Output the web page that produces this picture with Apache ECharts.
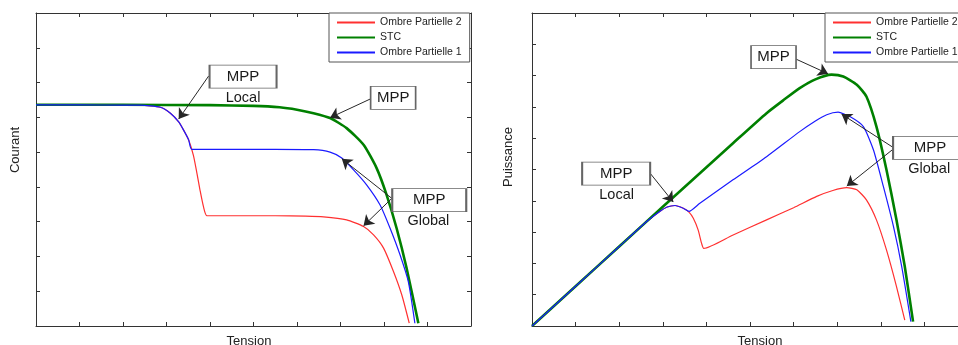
<!DOCTYPE html>
<html>
<head>
<meta charset="utf-8">
<script src="https://cdn.jsdelivr.net/npm/echarts@6/dist/echarts.min.js"></script>
<style>
  html, body { margin: 0; padding: 0; background: #fff; overflow: hidden; }
  /* the right panel runs past the window edge, as in the original figure */
  #chart { width: 980px; height: 345px; }
</style>
</head>
<body>
<div id="chart"></div>
<script>
// Courant / Tension (left panel), [tension, courant]
const ivOmbre2 = [[0, 6.36], [1, 6.36], [2, 6.35], [2.4, 6.35], [2.86, 6.29], [3.09, 6.12], [3.28, 5.87], [3.39, 5.64],
  [3.51, 5.35], [3.62, 4.9], [3.7, 4.39], [3.77, 3.91], [3.85, 3.43], [3.93, 3.17], [4.5, 3.17], [5.5, 3.17],
  [6.2, 3.16], [6.61, 3.14], [7.14, 3.05], [7.53, 2.86], [7.76, 2.62], [7.99, 2.24], [8.22, 1.56], [8.41, 0.89], [8.58, 0.08]];
const ivStc = [[0, 6.36], [2, 6.36], [4, 6.35], [5, 6.33], [5.6, 6.29], [6.0, 6.22], [6.38, 6.12], [6.76, 5.98],
  [7.14, 5.69], [7.53, 5.21], [7.83, 4.54], [8.06, 3.77], [8.29, 2.81], [8.52, 1.66], [8.79, 0.08]];
const ivOmbre1 = [[0, 6.36], [1, 6.36], [2, 6.35], [2.4, 6.35], [2.86, 6.29], [3.09, 6.12], [3.28, 5.87], [3.39, 5.64],
  [3.51, 5.35], [3.58, 5.08], [4.5, 5.08], [5.5, 5.08], [6.38, 5.07], [6.76, 5.0], [7.03, 4.83], [7.3, 4.49],
  [7.6, 4.06], [7.91, 3.48], [8.14, 2.81], [8.37, 2.04], [8.56, 1.27], [8.71, 0.08]];

// Puissance / Tension (right panel), [tension, puissance]
const pvOmbre2 = [[0, 0], [1, 1.27], [2, 2.54], [2.63, 3.34], [2.93, 3.66], [3.1, 3.8], [3.28, 3.85], [3.47, 3.76],
  [3.6, 3.64], [3.7, 3.44], [3.81, 3.07], [3.89, 2.64], [3.94, 2.48], [4.6, 2.9], [5.38, 3.39], [6.0, 3.78],
  [6.53, 4.14], [6.9, 4.33], [7.22, 4.42], [7.45, 4.35], [7.67, 4.03], [7.9, 3.39], [8.13, 2.43], [8.36, 1.26], [8.55, 0.19]];
const pvStc = [[0, 0], [1, 1.27], [2, 2.54], [3, 3.81], [3.85, 4.88], [4.61, 5.84], [5.38, 6.8], [5.8, 7.25],
  [6.14, 7.6], [6.5, 7.88], [6.87, 8.03], [7.14, 7.97], [7.45, 7.71], [7.67, 7.33], [7.9, 6.37], [8.13, 4.99],
  [8.36, 3.39], [8.55, 1.9], [8.74, 0.14]];
const pvOmbre1 = [[0, 0], [1, 1.27], [2, 2.54], [2.63, 3.34], [2.93, 3.66], [3.1, 3.8], [3.28, 3.85], [3.47, 3.76],
  [3.6, 3.66], [3.85, 3.92], [4.61, 4.67], [5.38, 5.41], [6.14, 6.21], [6.5, 6.55], [6.76, 6.75], [7.02, 6.83],
  [7.29, 6.69], [7.6, 6.37], [7.83, 5.63], [8.06, 4.45], [8.29, 3.18], [8.48, 1.9], [8.69, 0.14]];

const seriesNames = ['Ombre Partielle 2', 'STC', 'Ombre Partielle 1'];

// annotation boxes / arrows, in data units of each panel
const ivBoxes = [
  { at: [4.76, 7.17], size: [67, 23], sub: 'Local', subAt: [4.76, 6.57] },
  { at: [8.21, 6.56], size: [45, 23] },
  { at: [9.04, 3.62], size: [74, 23], sub: 'Global', subAt: [9.02, 3.02] }
];
const ivArrows = [
  [[3.97, 7.19], [3.28, 5.95]],
  [[7.69, 6.53], [6.76, 5.99]],
  [[8.18, 3.67], [7.03, 4.81]],
  [[8.18, 3.67], [7.53, 2.88]]
];
const pvBoxes = [
  { at: [5.54, 8.59], size: [45, 23] },
  { at: [1.93, 4.87], size: [68, 23], sub: 'Local', subAt: [1.94, 4.19] },
  { at: [9.13, 5.69], size: [74, 23], sub: 'Global', subAt: [9.11, 5.01] }
];
const pvArrows = [
  [[6.05, 8.53], [6.79, 8.06]],
  [[2.71, 4.88], [3.24, 3.96]],
  [[8.31, 5.68], [7.1, 6.77]],
  [[8.31, 5.68], [7.22, 4.47]]
];

const FONT = '"Liberation Sans", Arial, sans-serif';
const colors = ['#ff3030', '#008000', '#1a1aff'];
const widths = [1.2, 2.6, 1.2];
const axisColor = '#333';

const chart = echarts.init(document.getElementById('chart'));

const makeAxis = (gridIndex, max, position) => ({
  type: 'value',
  gridIndex,
  position,
  min: 0,
  max,
  interval: 1,
  axisLine: { show: true, onZero: false, lineStyle: { color: axisColor, width: 1 } },
  axisTick: { show: true, inside: true, length: 4, lineStyle: { color: axisColor } },
  axisLabel: { show: false },
  splitLine: { show: false }
});

const markersFor = (boxes, arrows) => {
  const points = [];
  boxes.forEach(b => {
    points.push({
      coord: b.at,
      symbol: 'rect',
      symbolSize: b.size,
      itemStyle: { color: '#fff', borderColor: '#666', borderWidth: 1.2 },
      label: { show: true, position: 'inside', formatter: 'MPP', color: '#1a1a1a', fontSize: 15, fontFamily: FONT }
    });
    if (b.sub) {
      points.push({
        coord: b.subAt,
        symbol: 'rect',
        symbolSize: [1, 1],
        itemStyle: { color: 'rgba(0,0,0,0)', borderWidth: 0 },
        label: { show: true, position: 'inside', formatter: b.sub, color: '#1a1a1a', fontSize: 14.5, fontFamily: FONT }
      });
    }
  });
  return {
    markPoint: { silent: true, animation: false, data: points },
    markLine: {
      silent: true,
      animation: false,
      symbol: ['none', 'arrow'],
      symbolSize: 10,
      label: { show: false },
      lineStyle: { color: '#262626', width: 1, type: 'solid' },
      itemStyle: { color: '#111' },
      data: arrows.map(a => [{ coord: a[0] }, { coord: a[1] }])
    }
  };
};

const makeSeries = (datasets, gridIndex, marks) =>
  datasets.map((d, i) => Object.assign({
    name: seriesNames[i],
    type: 'line',
    xAxisIndex: gridIndex * 2,
    yAxisIndex: gridIndex * 2,
    data: d,
    showSymbol: false,
    symbol: 'none',
    smooth: 0.2,
    clip: false,
    z: 2 + i,
    color: colors[i],
    lineStyle: { color: colors[i], width: widths[i] }
  }, i === 2 ? marks : {}));

const makeLegend = (left) => ({
  left,
  top: 13,
  orient: 'vertical',
  selectedMode: false,
  data: seriesNames,
  backgroundColor: '#fff',
  borderColor: '#555',
  borderWidth: 1,
  borderRadius: 0,
  padding: [4, 8, 4, 7],
  itemGap: 4,
  itemWidth: 38,
  itemHeight: 11,
  itemStyle: { opacity: 0 },
  textStyle: { fontSize: 10.5, color: '#222', fontFamily: FONT }
});

const titleText = (text, x, y, rotation) => ({
  type: 'text',
  x, y,
  rotation: rotation || 0,
  style: { text, fill: '#222', font: '13px ' + FONT, align: 'center', verticalAlign: 'middle' }
});

chart.setOption({
  animation: false,
  grid: [
    { left: 36, top: 13, width: 435, height: 313 },
    { left: 532, top: 13, width: 436, height: 313 }
  ],
  xAxis: [
    makeAxis(0, 10, 'bottom'), makeAxis(0, 10, 'top'),
    makeAxis(1, 10, 'bottom'), makeAxis(1, 10, 'top')
  ],
  yAxis: [
    makeAxis(0, 9, 'left'), makeAxis(0, 9, 'right'),
    makeAxis(1, 10, 'left'), makeAxis(1, 10, 'right')
  ],
  legend: [makeLegend(329), makeLegend(825)],
  graphic: [
    titleText('Courant', 15, 150, Math.PI / 2),
    titleText('Tension', 249, 341),
    titleText('Puissance', 508, 157, Math.PI / 2),
    titleText('Tension', 760, 341)
  ],
  series: [
    ...makeSeries([ivOmbre2, ivStc, ivOmbre1], 0, markersFor(ivBoxes, ivArrows)),
    ...makeSeries([pvOmbre2, pvStc, pvOmbre1], 1, markersFor(pvBoxes, pvArrows))
  ]
});
</script>
</body>
</html>
